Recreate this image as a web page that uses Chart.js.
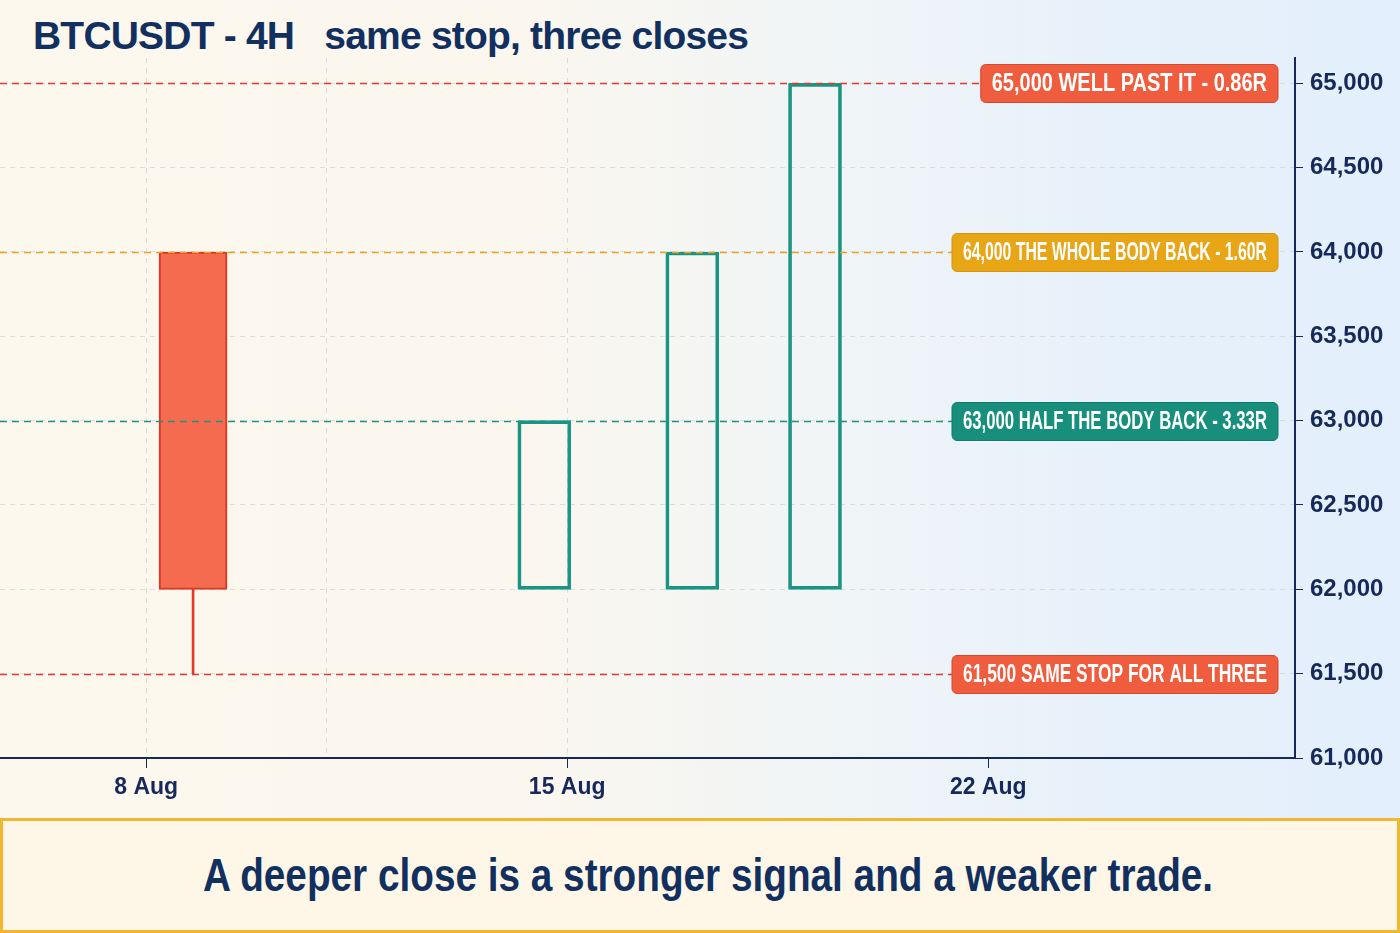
<!DOCTYPE html>
<html>
<head>
<meta charset="utf-8">
<script src="https://cdn.jsdelivr.net/npm/chart.js@4.4.1/dist/chart.umd.min.js"></script>
<style>
  html, body { margin: 0; padding: 0; }
  body {
    width: 1400px; height: 933px; position: relative; overflow: hidden;
    background: linear-gradient(90deg, #FDF8EE 0%, #FCF7EE 35%, #F1F5F6 58%, #E7F1FB 80%, #E3EFFC 100%);
    font-family: "Liberation Sans", Arial, sans-serif;
  }
  #title {
    position: absolute; left: 33px; top: 16px; line-height: 39px;
    font-size: 39px; font-weight: bold; color: #12305F; letter-spacing: -0.8px; white-space: pre;
  }
  #chartWrap { position: absolute; left: 0; top: 0; width: 1400px; height: 815px; }
  #footer {
    position: absolute; left: 0; top: 818px; width: 1400px; height: 115px; box-sizing: border-box;
    border: 3px solid #F2B731; background: #FEF7E8;
  }
  #footerText {
    position: absolute; top: 30px; left: 0; width: 1410px; text-align: center;
    font-size: 47px; line-height: 47px; font-weight: bold; color: #12305F; white-space: nowrap;
  }
  #footerText span { display: inline-block; transform-origin: 50% 50%; }
</style>
</head>
<body>
<div id="title">BTCUSDT - 4H   same stop, three closes</div>
<div id="chartWrap"><canvas id="c"></canvas></div>
<div id="footer"><div id="footerText"><span id="ft">A deeper close is a stronger signal and a weaker trade.</span></div></div>
<script>
// ---- data ----
const candleDays = [8.78, 14.62, 17.08, 19.12];   // day of August (4H candles)
const opens  = [64000, 62000, 62000, 62000];
const closes = [62000, 63000, 64000, 65000];
const highs  = [64000, 63000, 64000, 65000];
const lows   = [61500, 62000, 62000, 62000];

const levelValues = [65000, 64000, 63000, 61500];
const levelTexts  = ["WELL PAST IT - 0.86R", "THE WHOLE BODY BACK - 1.60R", "HALF THE BODY BACK - 3.33R", "SAME STOP FOR ALL THREE"];

const xTickDays = [8, 15, 22];
const xGridDays = [8, 11, 15];
const yMin = 61000, yMax = 65150, yStep = 500;
const xMin = 5.57, xMax = 27.1;

// ---- styles ----
const NAVY = '#16295A';
const levelLineColors = ['#E23B2E', '#EBA226', '#1E9482', '#E23B2E'];
const levelBoxColors  = ['#EF5C3E', '#E8A516', '#178F7C', '#EF5C3E'];
const levelBoxBorders = ['#D8472D', '#D39412', '#117A69', '#D8472D'];

const fmt = v => v.toLocaleString('en-US');

// build datasets
const bearBodies = [], bullBodies = [], wicks = [];
candleDays.forEach((d, i) => {
  const lo = Math.min(opens[i], closes[i]), hi = Math.max(opens[i], closes[i]);
  if (closes[i] < opens[i]) bearBodies.push({x: d, y: [lo, hi]});
  else bullBodies.push({x: d, y: [lo, hi]});
  if (lows[i] < lo) wicks.push({x: d, y: [lows[i], lo]});
  if (highs[i] > hi) wicks.push({x: d, y: [hi, highs[i]]});
});

const levelPlugin = {
  id: 'levels',
  afterDatasetsDraw(chart) {
    const {ctx, chartArea, scales: {y}} = chart;
    ctx.save();
    const condense = 0.80, maxText = 304, padX = 11, boxH = 38;
    const boxRight = chartArea.right - 17;
    levelValues.forEach((v, i) => {
      const py = Math.round(y.getPixelForValue(v)) + 0.5;
      const label = fmt(v) + ' ' + levelTexts[i];
      ctx.font = 'bold 25px "Liberation Sans", Arial, sans-serif';
      const raw = ctx.measureText(label).width;
      let sx = condense;
      if (raw * sx > maxText) sx = maxText / raw;
      const tw = raw * sx;
      const bx = boxRight - tw - 2 * padX;
      // dashed line
      ctx.strokeStyle = levelLineColors[i];
      ctx.lineWidth = 1.7;
      ctx.setLineDash([7, 5]);
      ctx.beginPath();
      ctx.moveTo(chartArea.left, py);
      ctx.lineTo(bx, py);
      ctx.stroke();
      ctx.setLineDash([]);
      // box
      ctx.fillStyle = levelBoxColors[i];
      ctx.strokeStyle = levelBoxBorders[i];
      ctx.lineWidth = 1;
      ctx.beginPath();
      ctx.roundRect(bx, py - boxH / 2, tw + 2 * padX, boxH, 5);
      ctx.fill();
      ctx.stroke();
      // text
      ctx.fillStyle = '#FFFFFF';
      ctx.textBaseline = 'middle';
      ctx.textAlign = 'left';
      ctx.save();
      ctx.translate(bx + padX, py + 1);
      ctx.scale(sx, 1);
      ctx.fillText(label, 0, 0);
      ctx.restore();
    });
    ctx.restore();
  }
};

const chart = new Chart(document.getElementById('c'), {
  type: 'bar',
  data: {
    datasets: [
      { data: wicks, grouped: false, barThickness: 2, backgroundColor: '#E0392A', borderWidth: 0 },
      { data: bearBodies, grouped: false, barThickness: 68, backgroundColor: '#F46B4F',
        borderColor: '#E0351F', borderWidth: 2, borderSkipped: false },
      { data: bullBodies, grouped: false, barThickness: 53, backgroundColor: 'rgba(0,0,0,0)',
        borderColor: '#1A9483', borderWidth: 3, borderSkipped: false }
    ]
  },
  options: {
    responsive: true, maintainAspectRatio: false, animation: false,
    devicePixelRatio: 1,
    layout: { padding: { top: 58, left: 0, right: 0, bottom: 0 } },
    plugins: { legend: { display: false }, tooltip: { enabled: false }, title: { display: false } },
    scales: {
      x: {
        type: 'linear', min: xMin, max: xMax, offset: false,
        afterBuildTicks: s => { s.ticks = [...new Set([...xTickDays, ...xGridDays])].sort((a, b) => a - b).map(v => ({value: v})); },
        afterFit: s => { s.height = 57; },
        grid: {
          offset: false,
          color: c => (c.tick && xGridDays.includes(c.tick.value)) ? '#DCDCDC' : 'rgba(0,0,0,0)',
          tickColor: c => (c.tick && xTickDays.includes(c.tick.value)) ? NAVY : 'rgba(0,0,0,0)',
          lineWidth: 1, tickLength: 10, drawOnChartArea: true
        },
        border: { display: true, color: NAVY, width: 2, dash: [5, 5] },
        ticks: {
          autoSkip: false, maxRotation: 0, padding: 6, color: NAVY,
          font: { family: '"Liberation Sans", Arial, sans-serif', size: 23, weight: 'bold' },
          callback: v => xTickDays.includes(v) ? v + ' Aug' : ''
        }
      },
      y: {
        position: 'right', min: yMin, max: yMax,
        afterBuildTicks: s => { const t = []; for (let v = yMin; v <= yMax; v += yStep) t.push({value: v}); s.ticks = t; },
        afterFit: s => { s.width = 105; },
        grid: { color: '#DCDCDC', lineWidth: 1, tickLength: 8, tickColor: NAVY },
        border: { display: true, color: NAVY, width: 2, dash: [5, 5] },
        ticks: {
          padding: 7, color: NAVY,
          font: { family: '"Liberation Sans", Arial, sans-serif', size: 24, weight: 'bold' },
          callback: v => fmt(v)
        }
      }
    }
  },
  plugins: [levelPlugin]
});

// condense footer text to its width in the reference
const ft = document.getElementById('ft');
const w = ft.getBoundingClientRect().width;
ft.style.transform = 'scaleX(' + (1010 / w).toFixed(3) + ')';
</script>
</body>
</html>
